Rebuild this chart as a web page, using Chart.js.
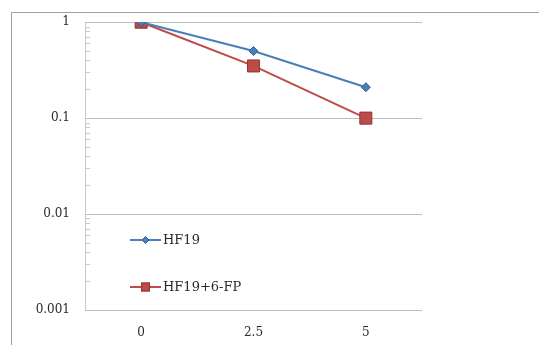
<!DOCTYPE html>
<html lang="en">
<head>
    <meta charset="UTF-8">
    <title>HF19 chart</title>
    <script src="https://cdn.jsdelivr.net/npm/chart.js"></script>
    <style>
        html, body {
            margin: 0;
            padding: 0;
            background: #ffffff;
        }
        canvas {
            display: block;
        }
    </style>
</head>
<body>
    <canvas id="chartCanvas" width="539" height="345"></canvas>
    <script>
        // Datos
        const categories = ["0", "2.5", "5"];
        const hf19 = [1, 0.5, 0.21];
        const hf19fp = [1, 0.35, 0.1];
        const yTicks = [0.001, 0.01, 0.1, 1];

        const blue = "#4A7EBB";
        const red = "#BE4B48";
        const serif = "'DejaVu Serif', serif";

        // marco exterior y marcas menores del eje log
        const framePlugin = {
            id: "framePlugin",
            beforeDraw: (chart) => {
                const ctx = chart.ctx;
                ctx.save();
                ctx.fillStyle = "white";
                ctx.fillRect(0, 0, chart.width, chart.height);
                ctx.strokeStyle = "#a0a0a0";
                ctx.lineWidth = 1;
                ctx.beginPath();
                ctx.moveTo(11.5, chart.height);
                ctx.lineTo(11.5, 12.5);
                ctx.lineTo(chart.width, 12.5);
                ctx.stroke();
                ctx.restore();
            },
            afterDraw: (chart) => {
                const ctx = chart.ctx;
                const y = chart.scales.y;
                const left = chart.chartArea.left;
                ctx.save();
                ctx.strokeStyle = "#c8c8c8";
                ctx.lineWidth = 1;
                ctx.beginPath();
                for (let e = -3; e < 0; e++) {
                    for (let m = 2; m <= 9; m++) {
                        const py = Math.round(y.getPixelForValue(m * Math.pow(10, e))) + 0.5;
                        ctx.moveTo(left, py);
                        ctx.lineTo(left + 5, py);
                    }
                }
                ctx.stroke();
                ctx.restore();
            }
        };

        // leyenda dentro del área del gráfico
        const legendPlugin = {
            id: "legendPlugin",
            afterDraw: (chart) => {
                const ctx = chart.ctx;
                const entries = [
                    { label: "HF19", color: blue, edge: "#385D8A", style: "diamond", y: 240 },
                    { label: "HF19+6-FP", color: red, edge: "#8C3836", style: "square", y: 287 }
                ];
                ctx.save();
                entries.forEach(en => {
                    ctx.strokeStyle = en.color;
                    ctx.fillStyle = en.color;
                    ctx.lineWidth = 2;
                    ctx.beginPath();
                    ctx.moveTo(130, en.y);
                    ctx.lineTo(161, en.y);
                    ctx.stroke();
                    ctx.lineWidth = 1;
                    ctx.strokeStyle = en.edge;
                    if (en.style === "diamond") {
                        ctx.beginPath();
                        ctx.moveTo(145.5, en.y - 3.5);
                        ctx.lineTo(149, en.y);
                        ctx.lineTo(145.5, en.y + 3.5);
                        ctx.lineTo(142, en.y);
                        ctx.closePath();
                        ctx.fill();
                        ctx.stroke();
                    } else {
                        ctx.fillRect(141, en.y - 4.5, 9, 9);
                        ctx.strokeRect(141.5, en.y - 4, 8, 8);
                    }
                    ctx.fillStyle = "#2b2b2b";
                    ctx.font = "13px " + serif;
                    ctx.textBaseline = "middle";
                    ctx.fillText(en.label, 163, en.y + 1);
                });
                ctx.restore();
            }
        };

        const ctx = document.getElementById("chartCanvas").getContext("2d");
        new Chart(ctx, {
            type: "line",
            data: {
                labels: categories,
                datasets: [
                    {
                        label: "HF19",
                        data: hf19,
                        borderColor: blue,
                        backgroundColor: blue,
                        pointBorderColor: "#385D8A",
                        borderWidth: 2,
                        pointStyle: "rectRot",
                        pointRadius: 4.5,
                        pointBorderWidth: 1
                    },
                    {
                        label: "HF19+6-FP",
                        data: hf19fp,
                        borderColor: red,
                        backgroundColor: red,
                        pointBorderColor: "#8C3836",
                        borderWidth: 2,
                        pointStyle: "rect",
                        pointRadius: 8.5,
                        pointBorderWidth: 1
                    }
                ]
            },
            options: {
                responsive: false,
                animation: false,
                layout: {
                    padding: { left: 0, top: 21, right: 117, bottom: 0 }
                },
                plugins: {
                    legend: { display: false },
                    tooltip: { enabled: false }
                },
                scales: {
                    x: {
                        offset: true,
                        afterFit: (scale) => { scale.height = 35; },
                        grid: { display: false, drawTicks: false },
                        border: { display: false },
                        ticks: {
                            padding: 16,
                            color: "#2b2b2b",
                            font: { family: serif, size: 12 }
                        }
                    },
                    y: {
                        type: "logarithmic",
                        min: 0.001,
                        max: 1,
                        afterFit: (scale) => { scale.width = 85; },
                        afterBuildTicks: (scale) => {
                            scale.ticks = yTicks.map(v => ({ value: v }));
                        },
                        grid: {
                            color: "#bdbdbd",
                            drawTicks: false
                        },
                        border: { display: true, color: "#c8c8c8" },
                        ticks: {
                            padding: 15,
                            color: "#2b2b2b",
                            font: { family: serif, size: 12 },
                            callback: (value) => String(value)
                        }
                    }
                }
            },
            plugins: [framePlugin, legendPlugin]
        });
    </script>
</body>
</html>
